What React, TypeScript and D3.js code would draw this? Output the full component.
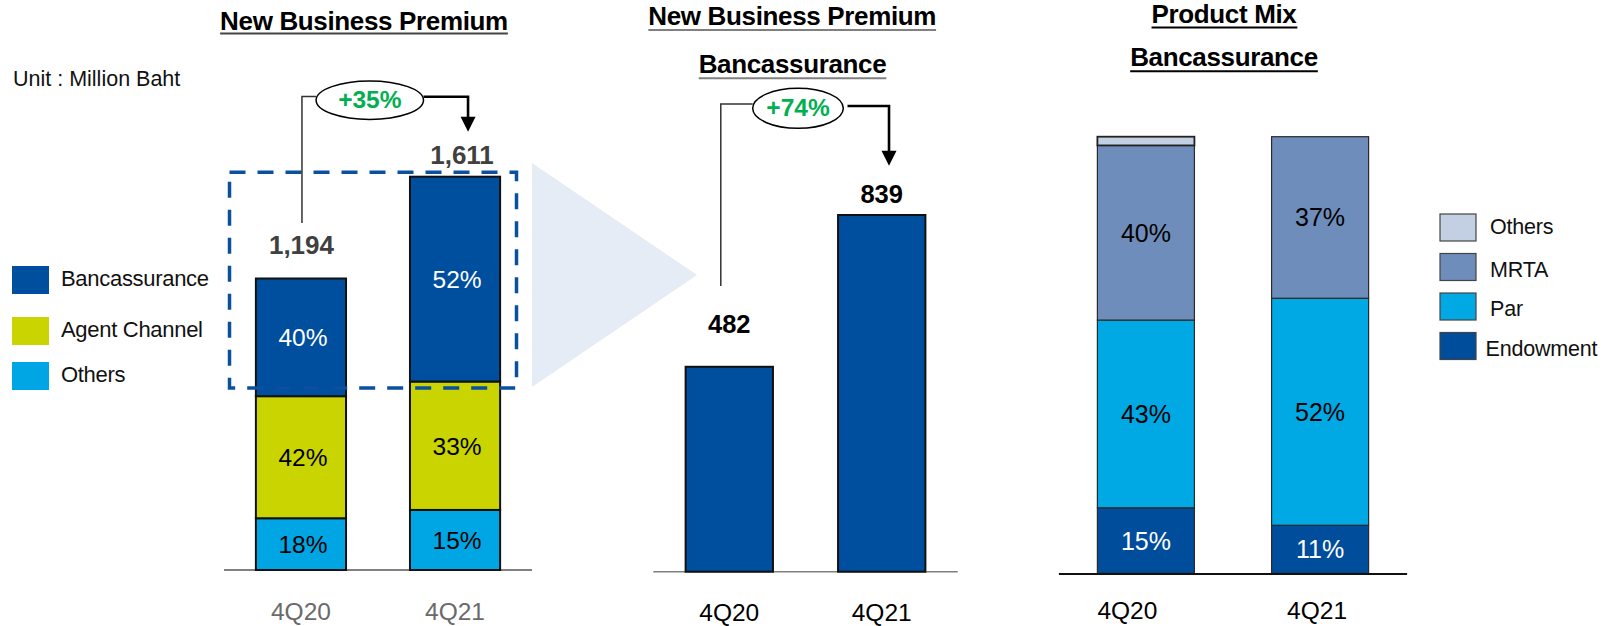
import React, { useEffect, useRef } from "react";
import * as d3 from "d3";

// ---------- DATA ----------
const categories = ["4Q20", "4Q21"];

// Panel 1 – New Business Premium by channel (Million Baht)
const nbpBancassurance = [482, 839];
const nbpAgent = [500, 526];
const nbpOthers = [212, 246];
const channelKeys = ["Others", "Agent Channel", "Bancassurance"]; // bottom -> top
const channelLegend = ["Bancassurance", "Agent Channel", "Others"];

// Panel 2 – New Business Premium, Bancassurance (Million Baht)
const bancaPremium = [482, 839];

// Panel 3 – Product mix of Bancassurance (%)
const mixEndowment = [15, 11];
const mixPar = [43, 52];
const mixMRTA = [40, 37];
const mixOthers = [2, 0];
const mixKeys = ["Endowment", "Par", "MRTA", "Others"]; // bottom -> top
const mixLegend = ["Others", "MRTA", "Par", "Endowment"];

const unitText = "Unit : Million Baht";

// ---------- STYLE ----------
const FONT = '"Liberation Sans", Arial, Helvetica, sans-serif';
const DARK_BLUE = "#004e9e";
const channelColors: Record<string, string> = {
  Bancassurance: DARK_BLUE,
  "Agent Channel": "#c9d400",
  Others: "#00a6e3",
};
const mixColors: Record<string, string> = {
  Others: "#c3cfe2",
  MRTA: "#6e8dbb",
  Par: "#00a8e4",
  Endowment: "#004d9b",
};
const GREEN = "#00b050";

export default function App() {
  const ref = useRef<SVGSVGElement>(null);

  useEffect(() => {
    const svg = d3.select(ref.current as SVGSVGElement);
    svg.selectAll("*").remove();
    svg.attr("font-family", FONT);

    const title = (text: string, cx: number, baseline: number, underlineY: number, ulColor: string) => {
      const t = svg
        .append("text")
        .attr("x", cx)
        .attr("y", baseline)
        .attr("text-anchor", "middle")
        .attr("font-weight", 700)
        .attr("font-size", 26)
        .attr("letter-spacing", -0.35)
        .attr("fill", "#000")
        .text(text);
      const bb = (t.node() as SVGTextElement).getBBox();
      svg
        .append("line")
        .attr("x1", bb.x)
        .attr("x2", bb.x + bb.width)
        .attr("y1", underlineY)
        .attr("y2", underlineY)
        .attr("stroke", ulColor)
        .attr("stroke-width", 2);
    };

    const growth = (o: {
      leftX: number;
      leftBottom: number;
      leftY: number;
      ex: number;
      ey: number;
      rx: number;
      ry: number;
      rightStart: number;
      rightY: number;
      rightX: number;
      tipY: number;
      label: string;
    }) => {
      svg
        .append("path")
        .attr("d", `M${o.leftX},${o.leftBottom}V${o.leftY}H${o.ex - o.rx}`)
        .attr("fill", "none")
        .attr("stroke", "#333")
        .attr("stroke-width", 1.5);
      svg
        .append("path")
        .attr("d", `M${o.rightStart},${o.rightY}H${o.rightX}V${o.tipY - 12}`)
        .attr("fill", "none")
        .attr("stroke", "#000")
        .attr("stroke-width", 2.6);
      svg
        .append("polygon")
        .attr(
          "points",
          `${o.rightX - 7.5},${o.tipY - 15} ${o.rightX + 7.5},${o.tipY - 15} ${o.rightX},${o.tipY}`
        )
        .attr("fill", "#000");
      svg
        .append("ellipse")
        .attr("cx", o.ex)
        .attr("cy", o.ey)
        .attr("rx", o.rx)
        .attr("ry", o.ry)
        .attr("fill", "#fff")
        .attr("stroke", "#000")
        .attr("stroke-width", 1.5);
      svg
        .append("text")
        .attr("x", o.ex)
        .attr("y", o.ey + 8)
        .attr("text-anchor", "middle")
        .attr("font-weight", 700)
        .attr("font-size", 24.5)
        .attr("fill", GREEN)
        .text(o.label);
    };

    const pctFmt = (v: number) => `${Math.round(v)}%`;
    const growthFmt = (a: number, b: number) => `+${Math.round((b / a - 1) * 100)}%`;

    // ================= PANEL 1 =================
    const totals = categories.map((_, i) => nbpBancassurance[i] + nbpAgent[i] + nbpOthers[i]);
    const x1 = d3.scaleBand<string>().domain(categories).range([224, 532]).paddingInner(0.415).paddingOuter(0.207);
    const y1 = d3.scaleLinear().domain([0, 1611]).range([570, 176.7]);

    title("New Business Premium", 364, 30, 33.5, "#444");
    svg
      .append("text")
      .attr("x", 13)
      .attr("y", 86)
      .attr("font-size", 21.5)
      .attr("fill", "#111")
      .text(unitText);

    // zoom triangle
    svg
      .append("polygon")
      .attr("points", `532,163 697,275 532,387`)
      .attr("fill", "#e5ecf5");

    svg
      .append("line")
      .attr("x1", x1.range()[0])
      .attr("x2", x1.range()[1])
      .attr("y1", y1(0))
      .attr("y2", y1(0))
      .attr("stroke", "#808080")
      .attr("stroke-width", 2);

    const p1Data = categories.map((c, i) => ({
      cat: c,
      Bancassurance: nbpBancassurance[i],
      "Agent Channel": nbpAgent[i],
      Others: nbpOthers[i],
    }));
    const p1Series = d3.stack<any>().keys(channelKeys)(p1Data);
    p1Series.forEach((s) => {
      s.forEach((d) => {
        const x = x1(d.data.cat) as number;
        svg
          .append("rect")
          .attr("x", x)
          .attr("y", y1(d[1]))
          .attr("width", x1.bandwidth())
          .attr("height", y1(d[0]) - y1(d[1]))
          .attr("fill", channelColors[s.key])
          .attr("stroke", "#111")
          .attr("stroke-width", 2);
      });
    });
    p1Series.forEach((s) => {
      s.forEach((d, i) => {
        const x = x1(d.data.cat) as number;
        svg
          .append("text")
          .attr("x", x + x1.bandwidth() / 2 + 2)
          .attr("y", (y1(d[0]) + y1(d[1])) / 2)
          .attr("dy", "0.36em")
          .attr("text-anchor", "middle")
          .attr("font-size", 24.5)
          .attr("fill", s.key === "Bancassurance" ? "#fff" : "#000")
          .text(pctFmt(((d[1] - d[0]) / totals[i]) * 100));
      });
    });

    // totals
    const p1LabelGap = [25, 12.7];
    const p1LabelDx = [0.5, 7];
    categories.forEach((c, i) => {
      svg
        .append("text")
        .attr("x", (x1(c) as number) + x1.bandwidth() / 2 + p1LabelDx[i])
        .attr("y", y1(totals[i]) - p1LabelGap[i])
        .attr("text-anchor", "middle")
        .attr("font-weight", 700)
        .attr("font-size", 26)
        .attr("fill", "#404040")
        .text(d3.format(",")(totals[i]));
      svg
        .append("text")
        .attr("x", (x1(c) as number) + x1.bandwidth() / 2)
        .attr("y", 620)
        .attr("text-anchor", "middle")
        .attr("font-size", 24.5)
        .attr("fill", "#6a6a6a")
        .text(c);
    });

    // dashed zoom box
    svg
      .append("rect")
      .attr("x", 229.5)
      .attr("y", 172.3)
      .attr("width", 287)
      .attr("height", 215.7)
      .attr("fill", "none")
      .attr("stroke", "#0b4f9f")
      .attr("stroke-width", 3.5)
      .attr("stroke-dasharray", "16 12");

    // legend panel 1
    const legY1 = [266, 317, 362];
    channelLegend.forEach((k, i) => {
      svg
        .append("rect")
        .attr("x", 12)
        .attr("y", legY1[i])
        .attr("width", 37)
        .attr("height", 28)
        .attr("fill", channelColors[k]);
      svg
        .append("text")
        .attr("x", 61)
        .attr("y", legY1[i] + 20)
        .attr("font-size", 22)
        .attr("letter-spacing", -0.3)
        .attr("fill", "#111")
        .text(k);
    });

    const c10 = (x1(categories[0]) as number) + x1.bandwidth() / 2;
    const c11 = (x1(categories[1]) as number) + x1.bandwidth() / 2;
    growth({
      leftX: c10 + 1,
      leftBottom: y1(totals[0]) - p1LabelGap[0] - 30.6,
      leftY: 96.5,
      ex: 369.8,
      ey: 100.2,
      rx: 53.7,
      ry: 19.2,
      rightStart: 369.8 + 53.7,
      rightY: 96.7,
      rightX: c11 + 13,
      tipY: y1(totals[1]) - p1LabelGap[1] - 32.3,
      label: growthFmt(totals[0], totals[1]),
    });

    // ================= PANEL 2 =================
    const x2 = d3.scaleBand<string>().domain(categories).range([653.3, 957.7]).paddingInner(0.427).paddingOuter(0.212);
    const y2 = d3.scaleLinear().domain([0, 839]).range([571.7, 215]);

    title("New Business Premium", 792.2, 25, 30, "#808080");
    title("Bancassurance", 792.5, 72.7, 78.3, "#808080");

    svg
      .append("line")
      .attr("x1", x2.range()[0])
      .attr("x2", x2.range()[1])
      .attr("y1", y2(0))
      .attr("y2", y2(0))
      .attr("stroke", "#808080")
      .attr("stroke-width", 1.5);

    const p2LabelGap = [33.4, 11.7];
    categories.forEach((c, i) => {
      const x = x2(c) as number;
      svg
        .append("rect")
        .attr("x", x)
        .attr("y", y2(bancaPremium[i]))
        .attr("width", x2.bandwidth())
        .attr("height", y2(0) - y2(bancaPremium[i]))
        .attr("fill", DARK_BLUE)
        .attr("stroke", "#111")
        .attr("stroke-width", 2);
      svg
        .append("text")
        .attr("x", x + x2.bandwidth() / 2)
        .attr("y", y2(bancaPremium[i]) - p2LabelGap[i])
        .attr("text-anchor", "middle")
        .attr("font-weight", 700)
        .attr("font-size", 25.5)
        .attr("fill", "#000")
        .text(d3.format(",")(bancaPremium[i]));
      svg
        .append("text")
        .attr("x", x + x2.bandwidth() / 2)
        .attr("y", 621)
        .attr("text-anchor", "middle")
        .attr("font-size", 24.5)
        .attr("fill", "#000")
        .text(c);
    });

    const c20 = (x2(categories[0]) as number) + x2.bandwidth() / 2;
    const c21 = (x2(categories[1]) as number) + x2.bandwidth() / 2;
    growth({
      leftX: c20 - 8.5,
      leftBottom: y2(bancaPremium[0]) - p2LabelGap[0] - 47.3,
      leftY: 104,
      ex: 798,
      ey: 108.3,
      rx: 45.3,
      ry: 20,
      rightStart: 798 + 49.5,
      rightY: 106,
      rightX: c21 + 7.3,
      tipY: y2(bancaPremium[1]) - p2LabelGap[1] - 37.6,
      label: growthFmt(bancaPremium[0], bancaPremium[1]),
    });

    // ================= PANEL 3 =================
    const x3 = d3.scaleBand<string>().domain(categories).range([1058.9, 1407.1]).paddingInner(0.443).paddingOuter(0.221);
    const y3 = d3.scaleLinear().domain([0, 100]).range([573.3, 136.7]);

    title("Product Mix", 1224, 23, 27.5, "#000");
    title("Bancassurance", 1224, 66, 71.3, "#000");

    const p3Data = categories.map((c, i) => ({
      cat: c,
      Endowment: mixEndowment[i],
      Par: mixPar[i],
      MRTA: mixMRTA[i],
      Others: mixOthers[i],
    }));
    const p3Series = d3.stack<any>().keys(mixKeys)(p3Data);
    p3Series.forEach((s) => {
      s.forEach((d) => {
        if (d[1] - d[0] <= 0) return;
        const x = x3(d.data.cat) as number;
        svg
          .append("rect")
          .attr("x", x)
          .attr("y", y3(d[1]))
          .attr("width", x3.bandwidth())
          .attr("height", y3(d[0]) - y3(d[1]))
          .attr("fill", mixColors[s.key])
          .attr("stroke", s.key === "Others" ? "#222" : "#2a2a2a")
          .attr("stroke-width", s.key === "Others" ? 1.8 : 1.2);
      });
    });
    p3Series.forEach((s) => {
      if (s.key === "Others") return;
      s.forEach((d) => {
        const x = x3(d.data.cat) as number;
        svg
          .append("text")
          .attr("x", x + x3.bandwidth() / 2)
          .attr("y", (y3(d[0]) + y3(d[1])) / 2)
          .attr("dy", "0.36em")
          .attr("text-anchor", "middle")
          .attr("font-size", 25)
          .attr("fill", s.key === "Endowment" ? "#fff" : "#000")
          .text(pctFmt(d[1] - d[0]));
      });
    });

    svg
      .append("line")
      .attr("x1", x3.range()[0])
      .attr("x2", x3.range()[1])
      .attr("y1", y3(0) + 0.7)
      .attr("y2", y3(0) + 0.7)
      .attr("stroke", "#111")
      .attr("stroke-width", 2);

    const p3LabelDx = [-18.5, -3];
    categories.forEach((c, i) => {
      svg
        .append("text")
        .attr("x", (x3(c) as number) + x3.bandwidth() / 2 + p3LabelDx[i])
        .attr("y", 619)
        .attr("text-anchor", "middle")
        .attr("font-size", 24.5)
        .attr("fill", "#000")
        .text(c);
    });

    // legend panel 3
    mixLegend.forEach((k, i) => {
      const y = 214 + i * 39.5;
      svg
        .append("rect")
        .attr("x", 1440)
        .attr("y", y)
        .attr("width", 36)
        .attr("height", 27)
        .attr("fill", mixColors[k])
        .attr("stroke", "#444")
        .attr("stroke-width", 1.2);
      svg
        .append("text")
        .attr("x", k === "Endowment" ? 1485.5 : 1490)
        .attr("y", y + (i === 0 ? 20 : 23))
        .attr("font-size", 21.5)
        .attr("letter-spacing", -0.2)
        .attr("fill", "#111")
        .text(k);
    });
  }, []);

  return (
    <svg
      ref={ref}
      width={1610}
      height={626}
      style={{ position: "absolute", left: 0, top: 0, background: "#fff", display: "block" }}
    />
  );
}
